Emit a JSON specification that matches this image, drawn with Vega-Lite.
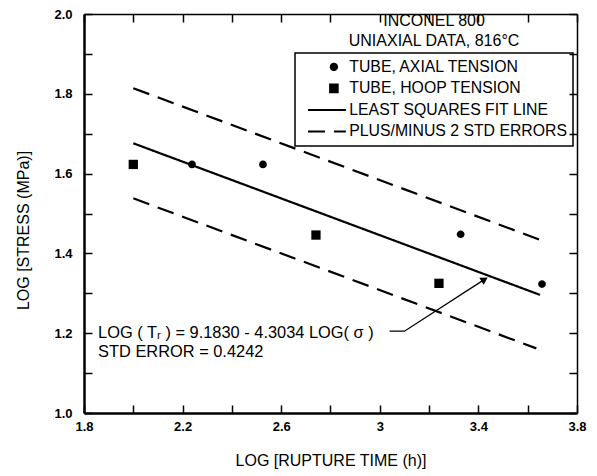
{
  "$schema": "https://vega.github.io/schema/vega-lite/v6.json",
  "width": 493,
  "height": 399,
  "autosize": {"type": "none"},
  "padding": {"left": 84, "top": 14, "right": 20, "bottom": 63},
  "background": "white",
  "datasets": {
    "points": [
      {"series": "TUBE, HOOP TENSION", "x": 2.0, "y": 1.623},
      {"series": "TUBE, HOOP TENSION", "x": 2.741, "y": 1.446},
      {"series": "TUBE, HOOP TENSION", "x": 3.24, "y": 1.325},
      {"series": "TUBE, AXIAL TENSION", "x": 2.238, "y": 1.623},
      {"series": "TUBE, AXIAL TENSION", "x": 2.526, "y": 1.623},
      {"series": "TUBE, AXIAL TENSION", "x": 3.328, "y": 1.448},
      {"series": "TUBE, AXIAL TENSION", "x": 3.658, "y": 1.323}
    ],
    "lines": [
      {"series": "LEAST SQUARES FIT LINE", "line": "fit", "x": 2.0, "y": 1.676},
      {"series": "LEAST SQUARES FIT LINE", "line": "fit", "x": 3.65, "y": 1.296},
      {"series": "PLUS/MINUS 2 STD ERRORS", "line": "upper", "x": 2.0, "y": 1.814},
      {"series": "PLUS/MINUS 2 STD ERRORS", "line": "upper", "x": 3.65, "y": 1.434},
      {"series": "PLUS/MINUS 2 STD ERRORS", "line": "lower", "x": 2.0, "y": 1.538},
      {"series": "PLUS/MINUS 2 STD ERRORS", "line": "lower", "x": 3.635, "y": 1.162}
    ],
    "arrow": [
      {"step": 1, "x": 3.04, "y": 1.205},
      {"step": 2, "x": 3.1, "y": 1.205},
      {"step": 3, "x": 3.425, "y": 1.335}
    ],
    "notes": [
      {"kind": "eq", "x": 1.857, "y": 1.2, "text": "LOG ( Tᵣ ) = 9.1830 - 4.3034 LOG( σ )"},
      {"kind": "eq", "x": 1.857, "y": 1.153, "text": "STD ERROR = 0.4242"},
      {"kind": "head", "x": 3.22, "y": 1.982, "text": "INCONEL 800"},
      {"kind": "head", "x": 3.22, "y": 1.932, "text": "UNIAXIAL DATA, 816°C"}
    ]
  },
  "config": {
    "view": {"stroke": null},
    "font": "Liberation Sans",
    "axis": {
      "grid": false,
      "domainColor": "black",
      "tickColor": "black",
      "labelColor": "black",
      "titleColor": "black",
      "tickSize": -8,
      "tickWidth": 1.5,
      "labelFlush": false,
      "labelOverlap": false,
      "labelFont": "Liberation Sans",
      "titleFont": "Liberation Sans"
    },
    "legend": {
      "labelFont": "Liberation Sans",
      "labelColor": "black",
      "symbolStrokeColor": "black",
      "symbolFillColor": "black"
    }
  },
  "resolve": {"axis": {"x": "independent", "y": "independent"}},
  "layer": [
    {
      "data": {"name": "lines"},
      "mark": {"type": "line", "strokeWidth": 2.2, "color": "black"},
      "encoding": {
        "x": {
          "field": "x", "type": "quantitative",
          "scale": {"domain": [1.8, 3.8], "nice": false, "zero": false},
          "axis": {"orient": "top", "values": [1.8, 2.0, 2.2, 2.4, 2.6, 2.8, 3.0, 3.2, 3.4, 3.6, 3.8], "labels": false, "title": null, "domainWidth": 1.5}
        },
        "y": {
          "field": "y", "type": "quantitative",
          "scale": {"domain": [1.0, 2.0], "nice": false, "zero": false},
          "axis": {"orient": "right", "values": [1.0, 1.1, 1.2, 1.3, 1.4, 1.5, 1.6, 1.7, 1.8, 1.9, 2.0], "labels": false, "title": null, "domainWidth": 1.5}
        },
        "strokeDash": {
          "field": "series", "type": "nominal",
          "scale": {
            "domain": ["TUBE, AXIAL TENSION", "TUBE, HOOP TENSION", "LEAST SQUARES FIT LINE", "PLUS/MINUS 2 STD ERRORS"],
            "range": [[1, 0], [1, 0], [1, 0], [17, 9]]
          },
          "legend": {
            "title": null, "orient": "none", "legendX": 211, "legendY": 39,
            "strokeColor": "black", "padding": 6, "symbolOffset": 25, "labelOffset": 7.5,
            "labelFontSize": 15.8, "labelLimit": 320, "rowPadding": 4.5, "symbolSize": 40,
            "symbolStrokeWidth": 2,
            "encode": {
              "symbols": {"update": {"stroke": {"value": "black"}, "fill": {"value": "black"}, "strokeWidth": {"value": 2}, "opacity": {"value": 1}}},
              "legend": {"update": {"strokeWidth": {"value": 1.5}}}
            }
          }
        },
        "detail": {"field": "line"}
      }
    },
    {
      "data": {"name": "points"},
      "mark": {"type": "point", "filled": true, "opacity": 1, "size": 60, "color": "black", "strokeWidth": 0},
      "encoding": {
        "x": {
          "field": "x", "type": "quantitative",
          "scale": {"domain": [1.8, 3.8], "nice": false, "zero": false},
          "axis": {
            "orient": "bottom", "values": [1.8, 2.0, 2.2, 2.4, 2.6, 2.8, 3.0, 3.2, 3.4, 3.6, 3.8],
            "labelExpr": "round(datum.value * 10) % 4 == 2 ? format(datum.value, '~g') : ''",
            "title": "LOG [RUPTURE TIME (h)]", "domainWidth": 2.5,
            "labelPadding": 15, "labelFontSize": 13, "labelFontWeight": "bold",
            "titleFontSize": 16, "titleFontWeight": "normal", "titlePadding": 19
          }
        },
        "y": {
          "field": "y", "type": "quantitative",
          "scale": {"domain": [1.0, 2.0], "nice": false, "zero": false},
          "axis": {
            "orient": "left", "values": [1.0, 1.1, 1.2, 1.3, 1.4, 1.5, 1.6, 1.7, 1.8, 1.9, 2.0],
            "labelExpr": "round(datum.value * 10) % 2 == 0 ? format(datum.value, '.1f') : ''",
            "title": "LOG [STRESS (MPa)]", "domainWidth": 2.5,
            "labelPadding": 20, "labelFontSize": 13, "labelFontWeight": "bold",
            "titleFontSize": 16, "titleFontWeight": "normal", "titlePadding": 22, "titleY": 216
          }
        },
        "shape": {
          "field": "series", "type": "nominal",
          "scale": {
            "domain": ["TUBE, AXIAL TENSION", "TUBE, HOOP TENSION", "LEAST SQUARES FIT LINE", "PLUS/MINUS 2 STD ERRORS"],
            "range": [
              "M-10,0M3.8,0M-1,0A1,1 0 1,0 1,0A1,1 0 1,0 -1,0Z",
              "M-10,0M3.8,0M-1.2,-1.2H1.2V1.2H-1.2Z",
              "M-10,0M-8.2,0H3.8",
              "M-10,0M-8.2,0H3.8"
            ]
          },
          "legend": {
            "title": null, "orient": "none", "legendX": 211, "legendY": 39,
            "strokeColor": "black", "padding": 6, "symbolOffset": 25, "labelOffset": 7.5,
            "labelFontSize": 15.8, "labelLimit": 320, "rowPadding": 4.5, "symbolSize": 40,
            "symbolStrokeWidth": 2,
            "encode": {
              "symbols": {"update": {"stroke": {"value": "black"}, "fill": {"value": "black"}, "strokeWidth": {"value": 2}, "opacity": {"value": 1}}},
              "legend": {"update": {"strokeWidth": {"value": 1.5}}}
            }
          }
        }
      }
    },
    {
      "data": {"name": "arrow"},
      "mark": {"type": "line", "color": "black", "strokeWidth": 1.3},
      "encoding": {
        "x": {"field": "x", "type": "quantitative", "scale": {"domain": [1.8, 3.8], "nice": false, "zero": false}, "axis": null},
        "y": {"field": "y", "type": "quantitative", "scale": {"domain": [1.0, 2.0], "nice": false, "zero": false}, "axis": null},
        "order": {"field": "step", "type": "quantitative"}
      }
    },
    {
      "data": {"name": "arrow"},
      "transform": [{"filter": "datum.step == 3"}],
      "mark": {"type": "point", "shape": "triangle-up", "filled": true, "opacity": 1, "size": 70, "angle": 58, "color": "black"},
      "encoding": {
        "x": {"field": "x", "type": "quantitative", "axis": null},
        "y": {"field": "y", "type": "quantitative", "axis": null}
      }
    },
    {
      "data": {"name": "notes"},
      "transform": [{"filter": "datum.kind == 'eq'"}],
      "mark": {"type": "text", "align": "left", "baseline": "middle", "fontSize": 16.4, "color": "black"},
      "encoding": {
        "x": {"field": "x", "type": "quantitative", "axis": null},
        "y": {"field": "y", "type": "quantitative", "axis": null},
        "text": {"field": "text"}
      }
    },
    {
      "data": {"name": "notes"},
      "transform": [{"filter": "datum.kind == 'head'"}],
      "mark": {"type": "text", "align": "center", "baseline": "middle", "fontSize": 16, "color": "black"},
      "encoding": {
        "x": {"field": "x", "type": "quantitative", "axis": null},
        "y": {"field": "y", "type": "quantitative", "axis": null},
        "text": {"field": "text"}
      }
    }
  ]
}
